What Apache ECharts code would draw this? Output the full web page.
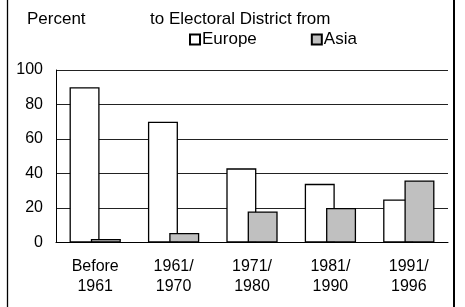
<!DOCTYPE html>
<html>
<head>
<meta charset="utf-8">
<script src="https://cdn.jsdelivr.net/npm/echarts@6/dist/echarts.min.js"></script>
<style>
html,body{margin:0;padding:0;background:#fff;}
#main{width:465px;height:307px;}
</style>
</head>
<body>
<div id="main"></div>
<script>
var categories = ['Before\n1961', '1961/\n1970', '1971/\n1980', '1981/\n1990', '1991/\n1996'];
var europe = [90, 70, 43, 34, 25];
var asia = [2, 5.5, 18, 20, 36];
var yTicks = [0, 20, 40, 60, 80, 100];

var font = 'Liberation Sans, Arial, sans-serif';
var myChart = echarts.init(document.getElementById('main'));

var option = {
	animation: false,
	title: [
		{
			text: 'Percent',
			left: 22, top: 6,
			textStyle: {fontSize: 17, fontWeight: 'normal', color: '#000', fontFamily: font}
		},
		{
			text: 'to Electoral District from',
			left: 145, top: 6,
			textStyle: {fontSize: 17, fontWeight: 'normal', color: '#000', fontFamily: font}
		}
	],
	legend: {
		left: 184, top: 26,
		icon: 'rect',
		itemWidth: 10, itemHeight: 10,
		itemGap: 54,
		textStyle: {fontSize: 17, color: '#000', fontFamily: font, padding: [0, 0, 0, -3]},
		data: ['Europe', 'Asia']
	},
	grid: {left: 56, top: 70, width: 392, height: 172.5},
	xAxis: {
		type: 'category',
		data: categories,
		axisLine: {lineStyle: {color: '#000', width: 1}},
		axisTick: {show: false},
		axisLabel: {color: '#000', fontSize: 16, fontFamily: font, lineHeight: 20, margin: 14}
	},
	yAxis: {
		type: 'value',
		min: yTicks[0], max: yTicks[yTicks.length - 1], interval: 20,
		axisLine: {show: true, lineStyle: {color: '#000', width: 1}},
		axisTick: {show: false},
		axisLabel: {color: '#000', fontSize: 16, fontFamily: font, margin: 13},
		splitLine: {lineStyle: {color: '#222', width: 1}}
	},
	series: [
		{
			name: 'Europe', type: 'bar', data: europe,
			barWidth: 30, barGap: '-29%',
			itemStyle: {color: '#fff', borderColor: '#000', borderWidth: 1.3}
		},
		{
			name: 'Asia', type: 'bar', data: asia,
			barWidth: 30,
			itemStyle: {color: '#c0c0c0', borderColor: '#000', borderWidth: 1.3}
		}
	],
	graphic: [
		{type: 'line', shape: {x1: 7.5, y1: 0, x2: 7.5, y2: 307}, style: {stroke: '#000', lineWidth: 1.3}},
		{type: 'line', shape: {x1: 454, y1: 0, x2: 454, y2: 307}, style: {stroke: '#000', lineWidth: 2}}
	]
};

myChart.setOption(option, true);
</script>
</body>
</html>
